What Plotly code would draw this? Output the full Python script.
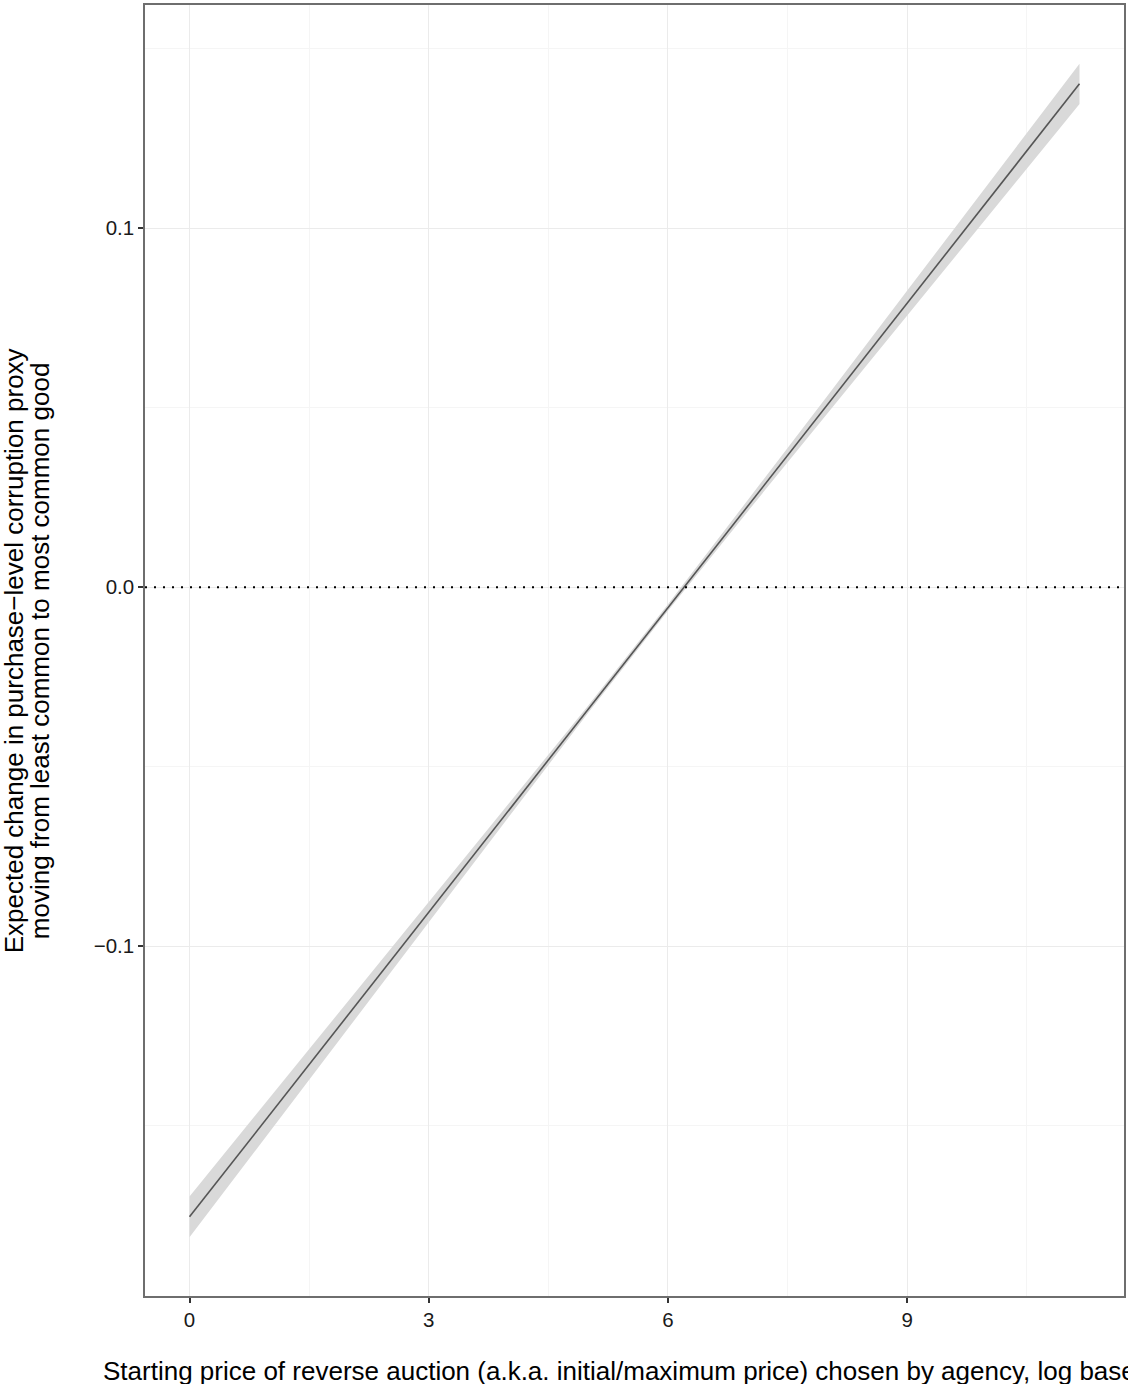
import plotly.graph_objects as go

# Starting price (log) and the estimated marginal effect with its 95% band
price_log = [0, 1, 2, 3, 4, 5, 6, 7, 8, 9, 10, 11, 11.16]
effect = [-0.1754, -0.1471, -0.1188, -0.0906, -0.0623, -0.0340, -0.0057,
          0.0226, 0.0508, 0.0791, 0.1074, 0.1357, 0.1402]
ci_lower = [-0.1811, -0.1518, -0.1225, -0.0933, -0.0641, -0.0350, -0.0066,
            0.0211, 0.0483, 0.0756, 0.1029, 0.1302, 0.1346]
ci_upper = [-0.1697, -0.1424, -0.1151, -0.0879, -0.0605, -0.0330, -0.0048,
            0.0241, 0.0533, 0.0826, 0.1119, 0.1412, 0.1458]

x_ticks = [0, 3, 6, 9]
y_ticks = [-0.1, 0.0, 0.1]
y_tick_text = ["\u22120.1", "0.0", "0.1"]

x_title = ("Starting price of reverse auction (a.k.a. initial/maximum price) "
           "chosen by agency, log base e")
y_title_lines = ["Expected change in purchase\u2212level corruption proxy",
                 "moving from least common to most common good"]

FONT = "Liberation Sans, Arial, Helvetica, sans-serif"
W, H = 1128, 1384
ML, MR, MT, MB = 145, 2, 5, 88

fig = go.Figure()

# confidence band
fig.add_trace(go.Scatter(x=price_log, y=ci_upper, mode="lines",
                         line=dict(width=0), hoverinfo="skip", showlegend=False))
fig.add_trace(go.Scatter(x=price_log, y=ci_lower, mode="lines",
                         line=dict(width=0), fill="tonexty",
                         fillcolor="#d9d9d9", hoverinfo="skip", showlegend=False))
# point estimate
fig.add_trace(go.Scatter(x=price_log, y=effect, mode="lines",
                         line=dict(color="#555555", width=1.6), showlegend=False))

# dotted reference line at zero
fig.add_hline(y=0, line=dict(color="black", width=2, dash="2px,7px"))

xr = [min(price_log), max(price_log)]
xpad = 0.05 * (xr[1] - xr[0])
yr = [min(ci_lower), max(ci_upper)]
ypad = 0.05 * (yr[1] - yr[0])

axis_common = dict(
    showline=True, mirror=True, linecolor="#6e6e6e", linewidth=1.5,
    ticks="outside", ticklen=5, tickwidth=1.5, tickcolor="#333333",
    gridcolor="#ebebeb", gridwidth=1.2,
    minor=dict(showgrid=True, gridcolor="#f5f5f5", gridwidth=1),
    tickfont=dict(family=FONT, size=20.5, color="#1a1a1a"),
    zeroline=False,
)

fig.update_xaxes(range=[xr[0] - xpad, xr[1] + xpad], tickvals=x_ticks,
                 ticktext=[str(v) for v in x_ticks],
                 minor_tickvals=[1.5, 4.5, 7.5, 10.5], minor_ticks="",
                 **axis_common)
fig.update_yaxes(range=[yr[0] - ypad, yr[1] + ypad], tickvals=y_ticks,
                 ticktext=y_tick_text,
                 minor_tickvals=[-0.15, -0.05, 0.05, 0.15], minor_ticks="",
                 **axis_common)

pw = W - ML - MR
ph = H - MT - MB

fig.add_annotation(text=x_title, xref="paper", yref="paper",
                   x=(101 - ML) / pw, xanchor="left",
                   y=-(1354 - (H - MB)) / ph, yanchor="top",
                   showarrow=False,
                   font=dict(family=FONT, size=26, color="black"))

# two-line rotated y-axis title, lines set close together
for line_text, centre_px in zip(y_title_lines, [13.5, 39.5]):
    fig.add_annotation(text=line_text, xref="paper", yref="paper",
                       x=(centre_px - ML) / pw, xanchor="center",
                       y=0.5, yanchor="middle", textangle=-90,
                       showarrow=False, borderpad=0,
                       font=dict(family=FONT, size=26, color="black"))

fig.update_layout(
    width=W, height=H,
    margin=dict(l=ML, r=MR, t=MT, b=MB),
    paper_bgcolor="white", plot_bgcolor="white",
    showlegend=False,
)

fig.write_html("out.html")
